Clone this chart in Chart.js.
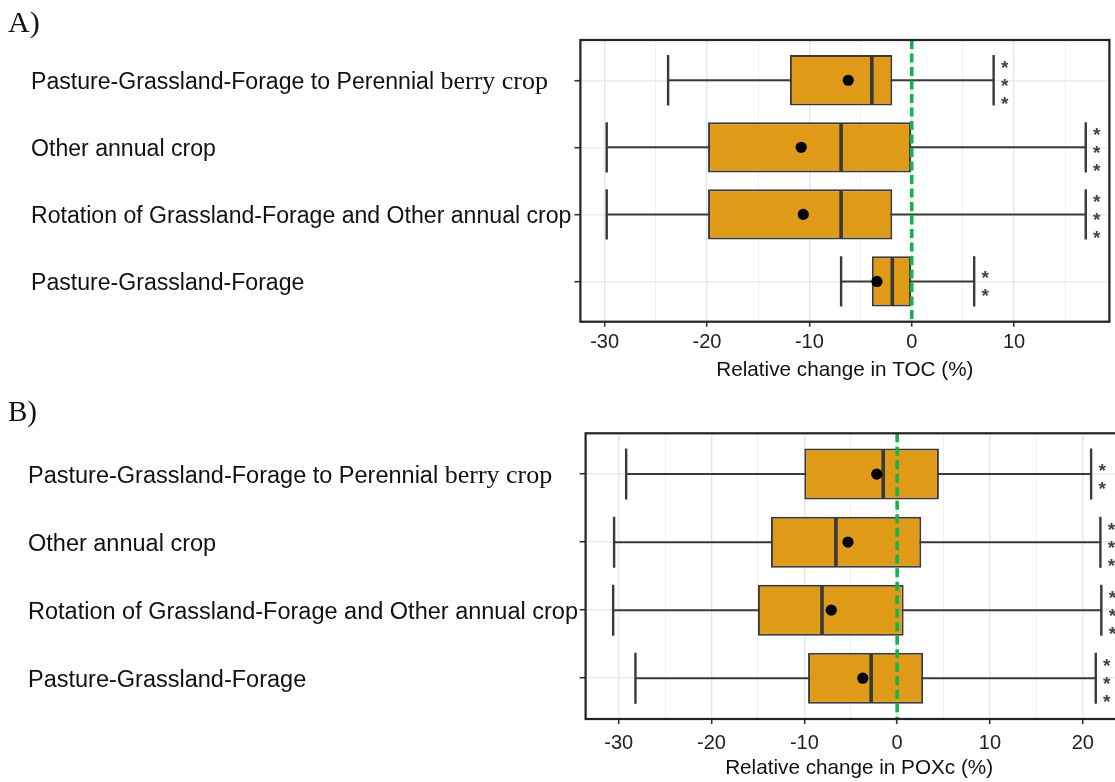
<!DOCTYPE html>
<html><head><meta charset="utf-8">
<script src="https://cdn.jsdelivr.net/npm/chart.js@4.4.1/dist/chart.umd.min.js"></script>
<style>
html,body{margin:0;padding:0;background:#fff;overflow:hidden;width:1115px;height:782px;position:relative;}
#ca{position:absolute;left:0;top:0;}
#cb{position:absolute;left:0;top:392px;}
</style></head><body>
<canvas id="ca" width="1115" height="392" style="width:1115px;height:392px"></canvas>
<canvas id="cb" width="1140" height="390" style="width:1140px;height:390px"></canvas>
<script>
// ---------- data ----------
const categories = [
  "Pasture-Grassland-Forage to Perennial berry crop",
  "Other annual crop",
  "Rotation of Grassland-Forage and Other annual crop",
  "Pasture-Grassland-Forage"
];
// Panel A: relative change in TOC (%)
const tocMin    = [-23.8, -29.8, -29.8, -6.9];
const tocQ1     = [-11.9, -19.9, -19.9, -3.9];
const tocMedian = [-3.9,  -6.9,  -6.9,  -1.9];
const tocQ3     = [-1.9,   0.0,  -1.9,   0.0];
const tocMax    = [8.0,   17.0,  17.0,   6.1];
const tocMean   = [-6.2, -10.8, -10.6,  -3.4];
const tocStars  = [3, 3, 3, 2];
const tocTickLabels = [-30, -20, -10, 0, 10];
// Panel B: relative change in POXc (%)
const poxMin    = [-29.2, -30.5, -30.6, -28.2];
const poxQ1     = [-10.0, -13.6, -15.0,  -9.6];
const poxMedian = [-1.5,   -6.6,  -8.1,  -2.8];
const poxQ3     = [4.5,     2.6,   0.7,   2.8];
const poxMax    = [20.9,   21.9,  22.0,  21.4];
const poxMean   = [-2.2,   -5.3,  -7.1,  -3.7];
const poxStars  = [2, 3, 3, 3];
const poxTickLabels = [-30, -20, -10, 0, 10, 20];

// ---------- drawing helpers ----------
const SANS = '"Liberation Sans", Arial, sans-serif';
const SERIF = '"Liberation Serif", "Times New Roman", serif';

const boxPlugin = {
  id: 'boxExtras',
  beforeDatasetsDraw(chart, args, o) {
    const {ctx, scales:{x, y}} = chart;
    const meta = chart.getDatasetMeta(0);
    ctx.save();
    ctx.strokeStyle = '#3a3a3a';
    o.min.forEach((v, i) => {
      const bar = meta.data[i];
      const h = bar.height;
      const cy = y.getPixelForValue(i);
      const x0 = x.getPixelForValue(v), x1 = x.getPixelForValue(o.max[i]);
      ctx.lineWidth = 2;
      ctx.beginPath(); ctx.moveTo(x0, cy); ctx.lineTo(x1, cy); ctx.stroke();
      ctx.lineWidth = 2.4;
      ctx.beginPath();
      ctx.moveTo(x0, cy - h/2); ctx.lineTo(x0, cy + h/2);
      ctx.moveTo(x1, cy - h/2); ctx.lineTo(x1, cy + h/2);
      ctx.stroke();
    });
    ctx.restore();
  },
  afterDatasetDraw(chart, args, o) {
    if (args.index !== 0) return;
    const {ctx, scales:{x, y}} = chart;
    const meta = chart.getDatasetMeta(0);
    ctx.save();
    ctx.strokeStyle = '#383838';
    ctx.lineWidth = 3.6;
    o.median.forEach((v, i) => {
      const bar = meta.data[i];
      const h = bar.height;
      const cy = y.getPixelForValue(i);
      const px = x.getPixelForValue(v);
      ctx.beginPath(); ctx.moveTo(px, cy - h/2 + 1); ctx.lineTo(px, cy + h/2 - 1); ctx.stroke();
    });
    ctx.restore();
  },
  afterDatasetsDraw(chart, args, o) {
    const {ctx, chartArea:a, scales:{x, y}} = chart;
    ctx.save();
    // zero reference line
    const zx = x.getPixelForValue(0);
    ctx.strokeStyle = '#13B44F';
    ctx.lineWidth = 3.6;
    ctx.setLineDash([9, 4.5]);
    ctx.beginPath(); ctx.moveTo(zx, a.top); ctx.lineTo(zx, a.bottom); ctx.stroke();
    ctx.setLineDash([]);
    // significance stars
    ctx.fillStyle = '#444';
    ctx.font = 'bold 19px ' + SANS;
    ctx.textAlign = 'center';
    ctx.textBaseline = 'alphabetic';
    o.stars.forEach((n, i) => {
      const cy = y.getPixelForValue(i);
      const sx = x.getPixelForValue(o.max[i]) + 11;
      for (let k = 0; k < n; k++) {
        const sy = cy + (k - (n - 1) / 2) * 18;
        ctx.fillText('*', sx, sy + 11.5);
      }
    });
    ctx.restore();
  },
  afterDraw(chart, args, o) {
    const {ctx, chartArea:a, scales:{y}} = chart;
    ctx.save();
    // panel border
    ctx.strokeStyle = '#222';
    ctx.lineWidth = 2.2;
    ctx.strokeRect(a.left, a.top, a.right - a.left, a.bottom - a.top);
    // category labels (the words "berry crop" are set in a serif face, as in the figure)
    ctx.fillStyle = '#111';
    ctx.textAlign = 'left';
    ctx.textBaseline = 'alphabetic';
    categories.forEach((lab, i) => {
      const cy = y.getPixelForValue(i) + 8.5;
      let px = o.labelX;
      const idx = lab.indexOf('berry crop');
      const parts = idx >= 0 ? [[lab.slice(0, idx), o.labelSize + 'px ' + SANS], [lab.slice(idx), '26px ' + SERIF]]
                             : [[lab, o.labelSize + 'px ' + SANS]];
      parts.forEach(([t, f]) => {
        ctx.font = f;
        ctx.fillText(t, px, cy);
        px += ctx.measureText(t).width;
      });
    });
    // panel letter
    ctx.font = o.letterSize + 'px ' + SERIF;
    ctx.fillStyle = '#111';
    ctx.fillText(o.letter, 8, o.letterY);
    ctx.restore();
  }
};

function makeChart(id, cfg) {
  const n = categories.length;
  return new Chart(document.getElementById(id), {
    type: 'bar',
    data: {
      datasets: [
        {
          type: 'bar',
          data: categories.map((c, i) => ({x: [cfg.q1[i], cfg.q3[i]], y: i})),
          backgroundColor: '#DF9A17',
          borderColor: '#3a3a3a',
          borderWidth: 2,
          borderSkipped: false,
          barPercentage: 0.75,
          categoryPercentage: 1,
          order: 2
        },
        {
          type: 'scatter',
          data: categories.map((c, i) => ({x: cfg.mean[i], y: i})),
          backgroundColor: '#000',
          borderWidth: 0,
          pointRadius: 5.6,
          order: 1
        }
      ]
    },
    options: {
      responsive: false,
      animation: false,
      devicePixelRatio: 1,
      indexAxis: 'y',
      layout: {padding: {left: 0, top: cfg.top, right: cfg.right, bottom: 0}},
      plugins: {
        legend: {display: false},
        tooltip: {enabled: false},
        boxExtras: {
          min: cfg.min, max: cfg.max, median: cfg.median, stars: cfg.stars,
          labelX: cfg.labelX, labelSize: cfg.labelSize,
          letter: cfg.letter, letterY: cfg.letterY, letterSize: cfg.letterSize
        }
      },
      scales: {
        x: {
          type: 'linear',
          min: cfg.xmin, max: cfg.xmax,
          afterFit: s => { s.height = cfg.xAxisH; },
          border: {display: false},
          grid: {
            color: ctx => cfg.tickLabels.includes(ctx.tick.value) ? '#e6e6e6' : '#f0f0f0',
            lineWidth: ctx => cfg.tickLabels.includes(ctx.tick.value) ? 1.4 : 1,
            drawTicks: true,
            tickLength: 5,
            tickWidth: 1.6,
            tickColor: ctx => cfg.tickLabels.includes(ctx.tick.value) ? '#333' : 'rgba(0,0,0,0)'
          },
          ticks: {
            stepSize: 5,
            includeBounds: false,
            autoSkip: false,
            maxRotation: 0,
            padding: cfg.tickPad,
            color: '#222',
            font: {family: SANS, size: 20},
            callback: v => cfg.tickLabels.includes(v) ? String(v) : ''
          },
          title: {
            display: true,
            text: cfg.title,
            color: '#111',
            font: {family: SANS, size: 20.7},
            padding: {top: 0, bottom: cfg.titlePad}
          }
        },
        y: {
          type: 'linear',
          offset: false,
          min: -0.6, max: n - 0.4,
          reverse: true,
          afterFit: s => { s.width = cfg.left; },
          afterBuildTicks: s => { s.ticks = categories.map((c, i) => ({value: i})); },
          border: {display: false},
          grid: {
            offset: false,
            color: '#ececec',
            lineWidth: 1.4,
            drawTicks: true,
            tickLength: 6,
            tickWidth: 1.6,
            tickColor: '#333'
          },
          ticks: {stepSize: 1, includeBounds: false, display: false}
        }
      }
    },
    plugins: [boxPlugin]
  });
}

makeChart('ca', {
  q1: tocQ1, q3: tocQ3, min: tocMin, max: tocMax, median: tocMedian, mean: tocMean,
  stars: tocStars, tickLabels: tocTickLabels,
  xmin: -32.37, xmax: 19.31,
  top: 40, right: 1115 - 1110.5, left: 580.4, xAxisH: 392 - 321.7,
  tickPad: 4, titlePad: 9.5,
  title: 'Relative change in TOC (%)',
  labelX: 31, labelSize: 23.1,
  letter: 'A)', letterY: 32, letterSize: 30
});

makeChart('cb', {
  q1: poxQ1, q3: poxQ3, min: poxMin, max: poxMax, median: poxMedian, mean: poxMean,
  stars: poxStars, tickLabels: poxTickLabels,
  xmin: -33.57, xmax: 25.37,
  top: 41.3, right: 1140 - 1132.6, left: 585.6, xAxisH: 390 - 327,
  tickPad: 7, titlePad: 1.5,
  title: 'Relative change in POXc (%)',
  labelX: 28, labelSize: 23.5,
  letter: 'B)', letterY: 29, letterSize: 29
});
</script>
</body></html>
